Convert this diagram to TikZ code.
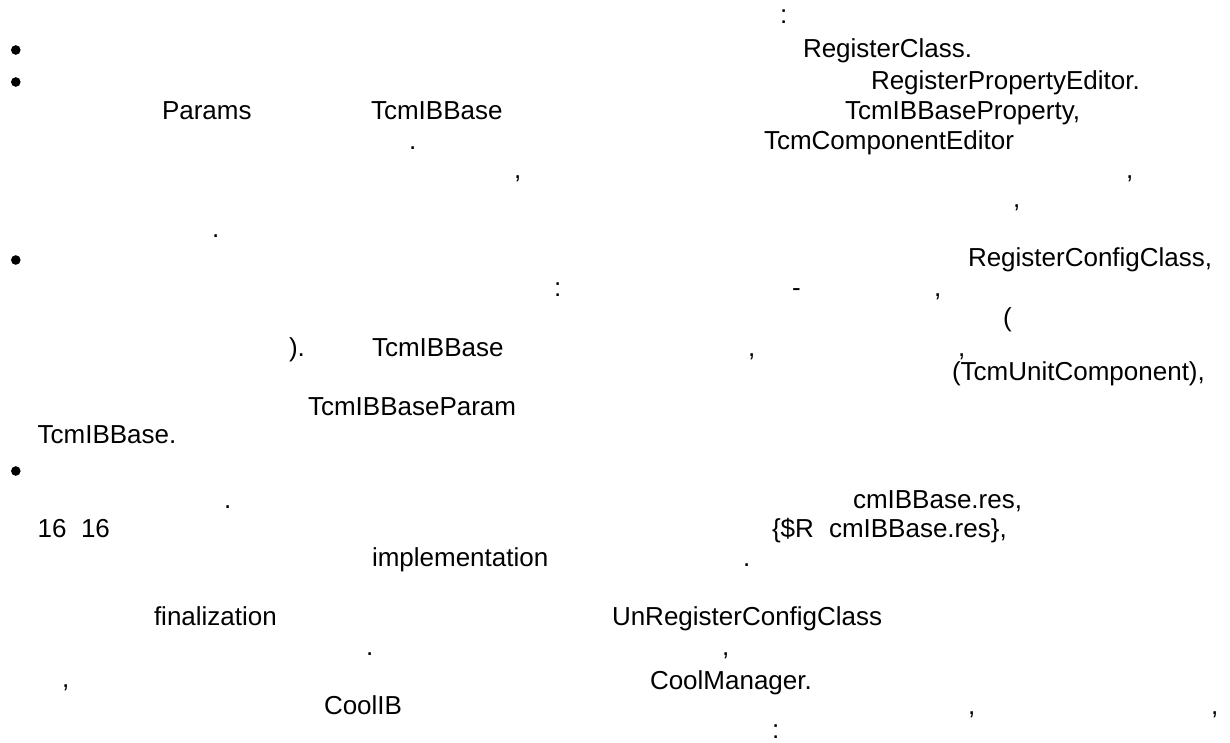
\documentclass[tikz,border=0pt]{standalone}
\usepackage{fontspec}
\setmainfont{Liberation Sans}
\begin{document}
\begin{tikzpicture}[x=1pt,y=-1pt,
  txt/.style={anchor=base west,inner sep=0pt,outer sep=0pt,font=\fontsize{26}{30}\selectfont},
  bulletdot/.style={circle,fill=black,inner sep=0pt,minimum size=9.6pt}]
\useasboundingbox[fill=white] (0,0) rectangle (1230,742);
% bullets of the list
\node[bulletdot] (b1) at (15.8,50) {};
\node[bulletdot] (b2) at (15.8,82) {};
\node[bulletdot] (b3) at (15.8,260) {};
\node[bulletdot] (b4) at (15.8,471) {};
% text fragments, line by line
\node[txt] (a1) at (780,23) {:};
\node[txt] (l1) at (803,57) {RegisterClass.};
\node[txt] (l2) at (871,89) {RegisterPropertyEditor.};
\node[txt] (l3a) at (162,119) {Params};
\node[txt] (l3b) at (371,119) {TcmIBBase};
\node[txt] (l3c) at (845,119) {TcmIBBaseProperty,};
\node[txt] (l4a) at (409,149) {.};
\node[txt] (l4b) at (764,149) {TcmComponentEditor};
\node[txt] (l5a) at (514,178) {,};
\node[txt] (l5b) at (1126,178) {,};
\node[txt] (l6) at (1013,207) {,};
\node[txt] (l7) at (212,237) {.};
\node[txt] (l8) at (968,266) {RegisterConfigClass,};
\node[txt] (l9a) at (554,296) {:};
\node[txt] (l9b) at (792,296) {-};
\node[txt] (l9c) at (934,296) {,};
\node[txt] (l10) at (1003,326) {(};
\node[txt] (l11a) at (289,356) {).};
\node[txt] (l11b) at (372,356) {TcmIBBase};
\node[txt] (l11c) at (748,356) {,};
\node[txt] (l11d) at (958,356) {,};
\node[txt] (l12) at (952,380) {(TcmUnitComponent),};
\node[txt] (l13) at (308,415) {TcmIBBaseParam};
\node[txt] (l14) at (37.6,443) {TcmIBBase.};
\node[txt] (l15a) at (224,508) {.};
\node[txt] (l15b) at (853,508) {cmIBBase.res,};
\node[txt] (l16a) at (37.6,537) {16};
\node[txt] (l16b) at (81,537) {16};
\node[txt] (l16c) at (772,537) {\{\$R};
\node[txt] (l16d) at (829,537) {cmIBBase.res\},};
\node[txt] (l17a) at (372,566) {implementation};
\node[txt] (l17b) at (743,566) {.};
\node[txt] (l18a) at (154,625) {finalization};
\node[txt] (l18b) at (612,625) {UnRegisterConfigClass};
\node[txt] (l19a) at (366,655) {.};
\node[txt] (l19b) at (722,655) {,};
\node[txt] (l20a) at (62,687) {,};
\node[txt] (l20b) at (650,689) {CoolManager.};
\node[txt] (l21a) at (324,714) {CoolIB};
\node[txt] (l21b) at (968,714) {,};
\node[txt] (l21c) at (1211,714) {,};
\node[txt] (l22) at (772,738) {:};
\end{tikzpicture}
\end{document}
